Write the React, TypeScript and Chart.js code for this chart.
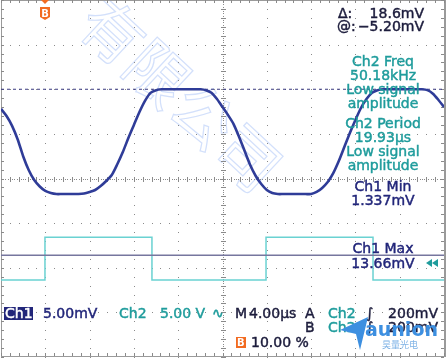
import React, { useEffect, useRef } from "react";
import { Chart, registerables } from "chart.js";

Chart.register(...registerables);

// ---- data ----
const timeUs = [
  0, 0.5, 1, 1.5, 2, 2.5, 3, 3.5, 4, 4.5, 5, 5.5, 6, 6.5, 7, 7.5, 8, 8.5, 9, 9.5,
  10, 10.5, 11, 11.5, 12, 12.5, 13, 13.5, 14, 14.5, 15, 15.5, 16, 16.5, 17, 17.5, 18, 18.5, 19, 19.5,
  20, 20.5, 21, 21.5, 22, 22.5, 23, 23.5, 24, 24.5, 25, 25.5, 26, 26.5, 27, 27.5, 28, 28.5, 29, 29.5,
  30, 30.5, 31, 31.5, 32, 32.5, 33, 33.5, 34, 34.5, 35, 35.5, 36, 36.5, 37, 37.5, 38, 38.5, 39, 39.5, 40,
];
const ch1mV = [
  11.2, 10.4, 9.3, 7.8, 5.9, 4.35, 3.23, 2.5, 2.0, 1.77, 1.66, 1.66, 1.66, 1.66, 1.66, 1.72, 1.89, 2.11, 2.56, 3.12,
  3.79, 5.0, 6.37, 7.94, 9.4, 10.85, 12.1, 13.0, 13.3, 13.4, 13.4, 13.4, 13.4, 13.4, 13.4, 13.4, 13.4, 13.3, 13.0, 12.3,
  11.4, 10.5, 9.5, 8.05, 6.48, 4.91, 3.68, 2.78, 2.11, 1.77, 1.66, 1.66, 1.66, 1.66, 1.66, 1.66, 1.66, 1.89, 2.34, 3.0,
  4.0, 5.36, 6.93, 8.5, 9.96, 11.3, 12.3, 13.0, 13.3, 13.4, 13.4, 13.4, 13.4, 13.4, 13.4, 13.4, 13.4, 13.3, 12.9, 12.2, 11.4,
];
const ch2TimeUs = [0, 3.97, 3.97, 13.63, 13.63, 23.93, 23.93, 33.59, 33.59, 40];
const ch2Volts = [0, 0, 4.8, 4.8, 0, 0, 4.8, 4.8, 0, 0];
const cursorMv = [13.4, -5.2];

const TIME_PER_DIV = 4; // µs/div
const CH1_SCALE = 5; // mV/div
const CH1_OFFSET_DIV = 0.68;
const CH2_SCALE = 5; // V/div
const CH2_OFFSET_DIV = 2.276;

const readouts = [
  { text: "Ch2 Freq", color: "teal", y: 66 },
  { text: "50.18kHz", color: "teal", y: 80 },
  { text: "Low signal", color: "teal", y: 94 },
  { text: "amplitude", color: "teal", y: 108 },
  { text: "Ch2 Period", color: "teal", y: 128 },
  { text: "19.93µs", color: "teal", y: 142 },
  { text: "Low signal", color: "teal", y: 156 },
  { text: "amplitude", color: "teal", y: 170 },
  { text: "Ch1 Min", color: "navy", y: 191 },
  { text: "1.337mV", color: "navy", y: 205 },
  { text: "Ch1 Max", color: "navy", y: 253 },
  { text: "13.66mV", color: "navy", y: 268 },
];

const COLORS: Record<string, string> = {
  teal: "#1f9c9c",
  navy: "#22267a",
  dark: "#1c1c3c",
  ch1: "#2f3c98",
  ch2: "#6ad2d2",
  grid: "#8a8a8a",
  orange: "#f26b21",
  logo: "#3d8fe0",
};

const FONT = "14px 'DejaVu Sans'";

function boldText(ctx: CanvasRenderingContext2D, text: string, x: number, y: number) {
  ctx.lineWidth = 0.45;
  ctx.strokeStyle = ctx.fillStyle as string;
  ctx.fillText(text, x, y);
  ctx.strokeText(text, x, y);
}

const graticule = {
  id: "graticule",
  beforeDatasetsDraw(chart: any) {
    const ctx = chart.ctx as CanvasRenderingContext2D;
    const xs = chart.scales.x;
    const ys = chart.scales.y1;
    const xAt = (d: number) => xs.getPixelForValue(d * TIME_PER_DIV);
    const yAt = (d: number) => ys.getPixelForValue((d + CH1_OFFSET_DIV) * CH1_SCALE);
    ctx.save();
    ctx.fillStyle = COLORS.grid;
    const dot = (x: number, y: number, w = 1, h = 1) => ctx.fillRect(Math.round(x), Math.round(y), w, h);
    for (let i = 1; i < 10; i++) {
      if (i === 5) continue;
      for (let j = -20; j <= 20; j++) dot(xAt(i), yAt(j / 5));
    }
    for (let i = -3; i <= 3; i++) {
      if (i === 0) continue;
      for (let j = 0; j <= 50; j++) dot(xAt(j / 5), yAt(i));
    }
    const cx = xAt(5);
    const cy = yAt(0);
    for (let j = 0; j <= 200; j++) dot(xAt(j / 20), cy);
    for (let j = -80; j <= 80; j++) dot(cx, yAt(j / 20));
    for (let j = 0; j <= 50; j++) dot(xAt(j / 5), cy - 2, 1, 5);
    for (let j = -20; j <= 20; j++) dot(cx - 2, yAt(j / 5), 5, 1);
    const top = yAt(4);
    const bot = yAt(-4);
    const left = xAt(0);
    const right = xAt(10);
    ctx.fillStyle = "#9a9a9a";
    ctx.fillRect(Math.round(left), Math.round(top), 1, Math.round(bot - top));
    ctx.fillRect(Math.round(right), Math.round(top), 2, Math.round(bot - top));
    ctx.fillRect(Math.round(left), Math.round(bot) - 1, Math.round(right - left), 1);
    ctx.fillRect(Math.round(left), Math.round(top), Math.round(right - left), 1);
    ctx.fillStyle = COLORS.grid;
    for (let j = 0; j <= 50; j++) {
      dot(xAt(j / 5), top, 1, 3);
      dot(xAt(j / 5), bot - 4, 1, 3);
    }
    for (let j = -20; j <= 20; j++) {
      dot(left, yAt(j / 5), 3, 1);
      dot(right - 3, yAt(j / 5), 3, 1);
    }
    ctx.restore();
  },
};

const overlay = {
  id: "overlay",
  afterDraw(chart: any) {
    const ctx = chart.ctx as CanvasRenderingContext2D;
    ctx.save();
    ctx.font = FONT;
    ctx.textBaseline = "alphabetic";

    ctx.fillStyle = COLORS.dark;
    ctx.textAlign = "left";
    boldText(ctx, "Δ:", 338, 18);
    boldText(ctx, "@:", 337, 31);
    ctx.textAlign = "right";
    boldText(ctx, "18.6mV", 424, 18);
    boldText(ctx, "−5.20mV", 424, 31);

    ctx.textAlign = "center";
    for (const r of readouts) {
      ctx.fillStyle = COLORS[r.color];
      boldText(ctx, r.text, 383, r.y);
    }

    ctx.fillStyle = COLORS.teal;
    for (const ox of [426, 432]) {
      ctx.beginPath();
      ctx.moveTo(ox, 263);
      ctx.lineTo(ox + 6, 259);
      ctx.lineTo(ox + 6, 267);
      ctx.closePath();
      ctx.fill();
    }

    ctx.fillStyle = COLORS.orange;
    ctx.beginPath();
    ctx.moveTo(41, 0);
    ctx.lineTo(49, 0);
    ctx.lineTo(45, 4);
    ctx.closePath();
    ctx.fill();
    ctx.beginPath();
    ctx.moveTo(40, 7);
    ctx.lineTo(50, 7);
    ctx.lineTo(50, 17);
    ctx.lineTo(45, 20);
    ctx.lineTo(40, 17);
    ctx.closePath();
    ctx.fill();
    ctx.fillStyle = "#fff";
    ctx.font = "bold 10px 'DejaVu Sans'";
    ctx.textAlign = "center";
    ctx.fillText("B", 45, 17);

    ctx.font = FONT;
    ctx.textAlign = "left";
    ctx.fillStyle = COLORS.navy;
    ctx.fillRect(4, 307, 29, 13);
    ctx.fillStyle = "#fff";
    boldText(ctx, "Ch1", 5, 318);
    ctx.fillStyle = COLORS.navy;
    boldText(ctx, "5.00mV", 43, 318);
    ctx.fillStyle = COLORS.teal;
    boldText(ctx, "Ch2", 119, 318);
    boldText(ctx, "5.00 V", 160, 318);
    boldText(ctx, "∿", 212, 318);
    ctx.fillStyle = COLORS.dark;
    boldText(ctx, "M", 235, 318);
    boldText(ctx, "4.00µs", 249, 318);
    boldText(ctx, "A", 305, 318);
    boldText(ctx, "B", 305, 332);
    ctx.fillStyle = COLORS.teal;
    boldText(ctx, "Ch2", 328, 318);
    boldText(ctx, "Ch2", 328, 332);
    ctx.fillStyle = COLORS.dark;
    boldText(ctx, "∫", 366, 318);
    boldText(ctx, "∫", 366, 332);
    ctx.textAlign = "right";
    boldText(ctx, "200mV", 438, 318);
    boldText(ctx, "200mV", 438, 332);
    ctx.textAlign = "left";
    ctx.fillStyle = COLORS.orange;
    ctx.fillRect(236, 337, 10, 11);
    ctx.fillStyle = "#fff";
    ctx.font = "bold 10px 'DejaVu Sans'";
    ctx.fillText("B", 237, 346);
    ctx.font = FONT;
    ctx.fillStyle = COLORS.dark;
    boldText(ctx, "10.00 %", 251, 347);

    ctx.fillStyle = COLORS.logo;
    ctx.beginPath();
    ctx.moveTo(340, 330);
    ctx.lineTo(368, 317);
    ctx.lineTo(360, 350);
    ctx.lineTo(356, 334);
    ctx.closePath();
    ctx.fill();
    ctx.font = "bold 19px 'DejaVu Sans'";
    ctx.fillText("aunion", 365, 336);
    ctx.fillStyle = "#7fb3e6";
    ctx.font = "9px 'Noto Sans CJK SC'";
    ctx.fillText("昊量光电", 382, 348);
    ctx.restore();
  },
};

const watermark = {
  id: "watermark",
  beforeDatasetsDraw(chart: any) {
    const ctx = chart.ctx as CanvasRenderingContext2D;
    ctx.save();
    ctx.strokeStyle = "#d3e0fb";
    ctx.lineWidth = 1.2;
    ctx.font = "62px 'Noto Sans CJK SC'";
    ctx.translate(90, 10);
    ctx.rotate(0.75);
    ctx.textBaseline = "middle";
    ctx.strokeText("有限公司", 0, 0);
    ctx.restore();
  },
};

export default function App() {
  const ref = useRef<HTMLCanvasElement | null>(null);
  useEffect(() => {
    document.body.style.margin = "0";
    const canvas = ref.current;
    if (!canvas) return;
    const chart = new Chart(canvas, {
      type: "scatter",
      data: {
        datasets: [
          {
            label: "Ch1",
            data: timeUs.map((t, i) => ({ x: t, y: ch1mV[i] })),
            yAxisID: "y1",
            showLine: true,
            borderColor: COLORS.ch1,
            borderWidth: 2.6,
            pointRadius: 0,
            tension: 0.25,
          },
          {
            label: "Cursor 1",
            data: [{ x: 0, y: cursorMv[0] }, { x: 40, y: cursorMv[0] }],
            yAxisID: "y1",
            showLine: true,
            borderColor: "#3a3a80",
            borderWidth: 1,
            borderDash: [3, 3],
            pointRadius: 0,
          },
          {
            label: "Cursor 2",
            data: [{ x: 0, y: cursorMv[1] }, { x: 40, y: cursorMv[1] }],
            yAxisID: "y1",
            showLine: true,
            borderColor: "#76769e",
            borderWidth: 1.5,
            pointRadius: 0,
          },
          {
            label: "Ch2",
            data: ch2TimeUs.map((t, i) => ({ x: t, y: ch2Volts[i] })),
            yAxisID: "y2",
            showLine: true,
            borderColor: COLORS.ch2,
            borderWidth: 1.5,
            pointRadius: 0,
          },
        ],
      },
      options: {
        responsive: false,
        devicePixelRatio: 1,
        animation: false,
        events: [],
        layout: { padding: { left: 1, right: 2, top: 0, bottom: 1 } },
        plugins: { legend: { display: false }, tooltip: { enabled: false } },
        scales: {
          x: { type: "linear", min: 0, max: 10 * TIME_PER_DIV, display: false },
          y1: {
            type: "linear",
            min: (-4 + CH1_OFFSET_DIV) * CH1_SCALE,
            max: (4 + CH1_OFFSET_DIV) * CH1_SCALE,
            display: false,
          },
          y2: {
            type: "linear",
            min: (-4 + CH2_OFFSET_DIV) * CH2_SCALE,
            max: (4 + CH2_OFFSET_DIV) * CH2_SCALE,
            display: false,
          },
        },
      },
      plugins: [watermark, graticule, overlay],
    });
    return () => chart.destroy();
  }, []);
  return (
    <div style={{ position: "fixed", left: 0, top: 0, width: 446, height: 358, background: "#fff" }}>
      <canvas ref={ref} width={446} height={358} />
    </div>
  );
}
